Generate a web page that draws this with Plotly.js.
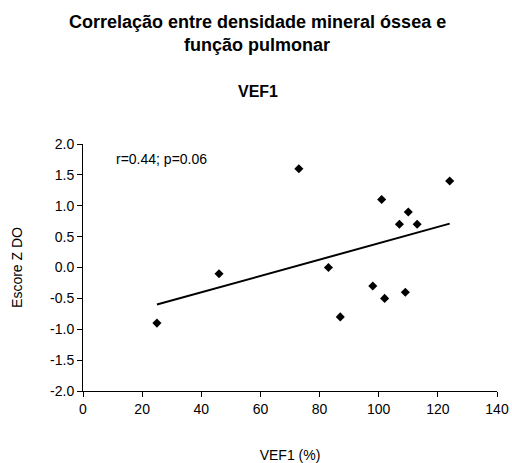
<!DOCTYPE html>
<html>
<head>
<meta charset="utf-8">
<script src="https://cdn.plot.ly/plotly-3.0.1.min.js"></script>
<style>html,body{margin:0;padding:0;background:#fff;}#chart{width:512px;height:463px;}</style>
</head>
<body>
<div id="chart"></div>
<script>
// Data
const vef1 = [73, 124, 101, 110, 107, 113, 46, 83, 98, 102, 109, 87, 25];
const escoreZ = [1.6, 1.4, 1.1, 0.9, 0.7, 0.7, -0.1, 0.0, -0.3, -0.5, -0.4, -0.8, -0.9];
// Trend line endpoints as drawn in the reference
const trendX = [25, 124];
const trendY = [-0.6, 0.71];
const xTicks = [0, 20, 40, 60, 80, 100, 120, 140];
const yTicks = [-2.0, -1.5, -1.0, -0.5, 0.0, 0.5, 1.0, 1.5, 2.0];

const font = "Arial, 'Liberation Sans', sans-serif";

const traces = [
  {
    x: vef1, y: escoreZ, type: 'scatter', mode: 'markers',
    marker: {symbol: 'diamond', size: 7, color: '#000'},
    hoverinfo: 'skip', showlegend: false
  },
  {
    x: trendX, y: trendY, type: 'scatter', mode: 'lines',
    line: {color: '#000', width: 2},
    hoverinfo: 'skip', showlegend: false
  }
];

const layout = {
  width: 512, height: 463,
  margin: {l: 83, r: 15, t: 144, b: 72},
  paper_bgcolor: '#fff', plot_bgcolor: '#fff',
  font: {family: font, size: 14, color: '#000'},
  showlegend: false,
  xaxis: {
    range: [0, 140], tickvals: xTicks, ticktext: xTicks.map(String),
    showgrid: false, zeroline: false, showline: true, linecolor: '#000', linewidth: 1,
    ticks: 'outside', ticklen: 5, tickcolor: '#000', tickwidth: 1,
    tickfont: {family: font, size: 14, color: '#000'},
    title: {text: 'VEF1 (%)', font: {family: font, size: 14, color: '#000'}, standoff: 38},
    fixedrange: true
  },
  yaxis: {
    range: [-2, 2], tickvals: yTicks, ticktext: yTicks.map(v => v.toFixed(1)),
    showgrid: false, zeroline: false, showline: true, linecolor: '#000', linewidth: 1,
    ticks: 'outside', ticklen: 5, tickcolor: '#000', tickwidth: 1,
    tickfont: {family: font, size: 14, color: '#000'},
    title: {text: 'Escore Z DO', font: {family: font, size: 14, color: '#000'}, standoff: 24},
    fixedrange: true
  },
  annotations: [
    {xref: 'paper', yref: 'paper', x: 0.5, y: 1, xshift: -33, yshift: 122, xanchor: 'center', yanchor: 'middle',
     text: '<b>Correlação entre densidade mineral óssea e</b>', showarrow: false,
     font: {family: font, size: 18, color: '#000'}},
    {xref: 'paper', yref: 'paper', x: 0.5, y: 1, xshift: -33, yshift: 99, xanchor: 'center', yanchor: 'middle',
     text: '<b>função pulmonar</b>', showarrow: false,
     font: {family: font, size: 18, color: '#000'}},
    {xref: 'paper', yref: 'paper', x: 0.5, y: 1, xshift: -32, yshift: 53, xanchor: 'center', yanchor: 'middle',
     text: '<b>VEF1</b>', showarrow: false,
     font: {family: font, size: 16, color: '#000'}},
    {xref: 'x', yref: 'y', x: 10.5, y: 1.76, xanchor: 'left', yanchor: 'middle',
     text: 'r=0.44; p=0.06', showarrow: false,
     font: {family: font, size: 14, color: '#000'}}
  ]
};

Plotly.newPlot('chart', traces, layout, {displayModeBar: false, staticPlot: true});
</script>
</body>
</html>
